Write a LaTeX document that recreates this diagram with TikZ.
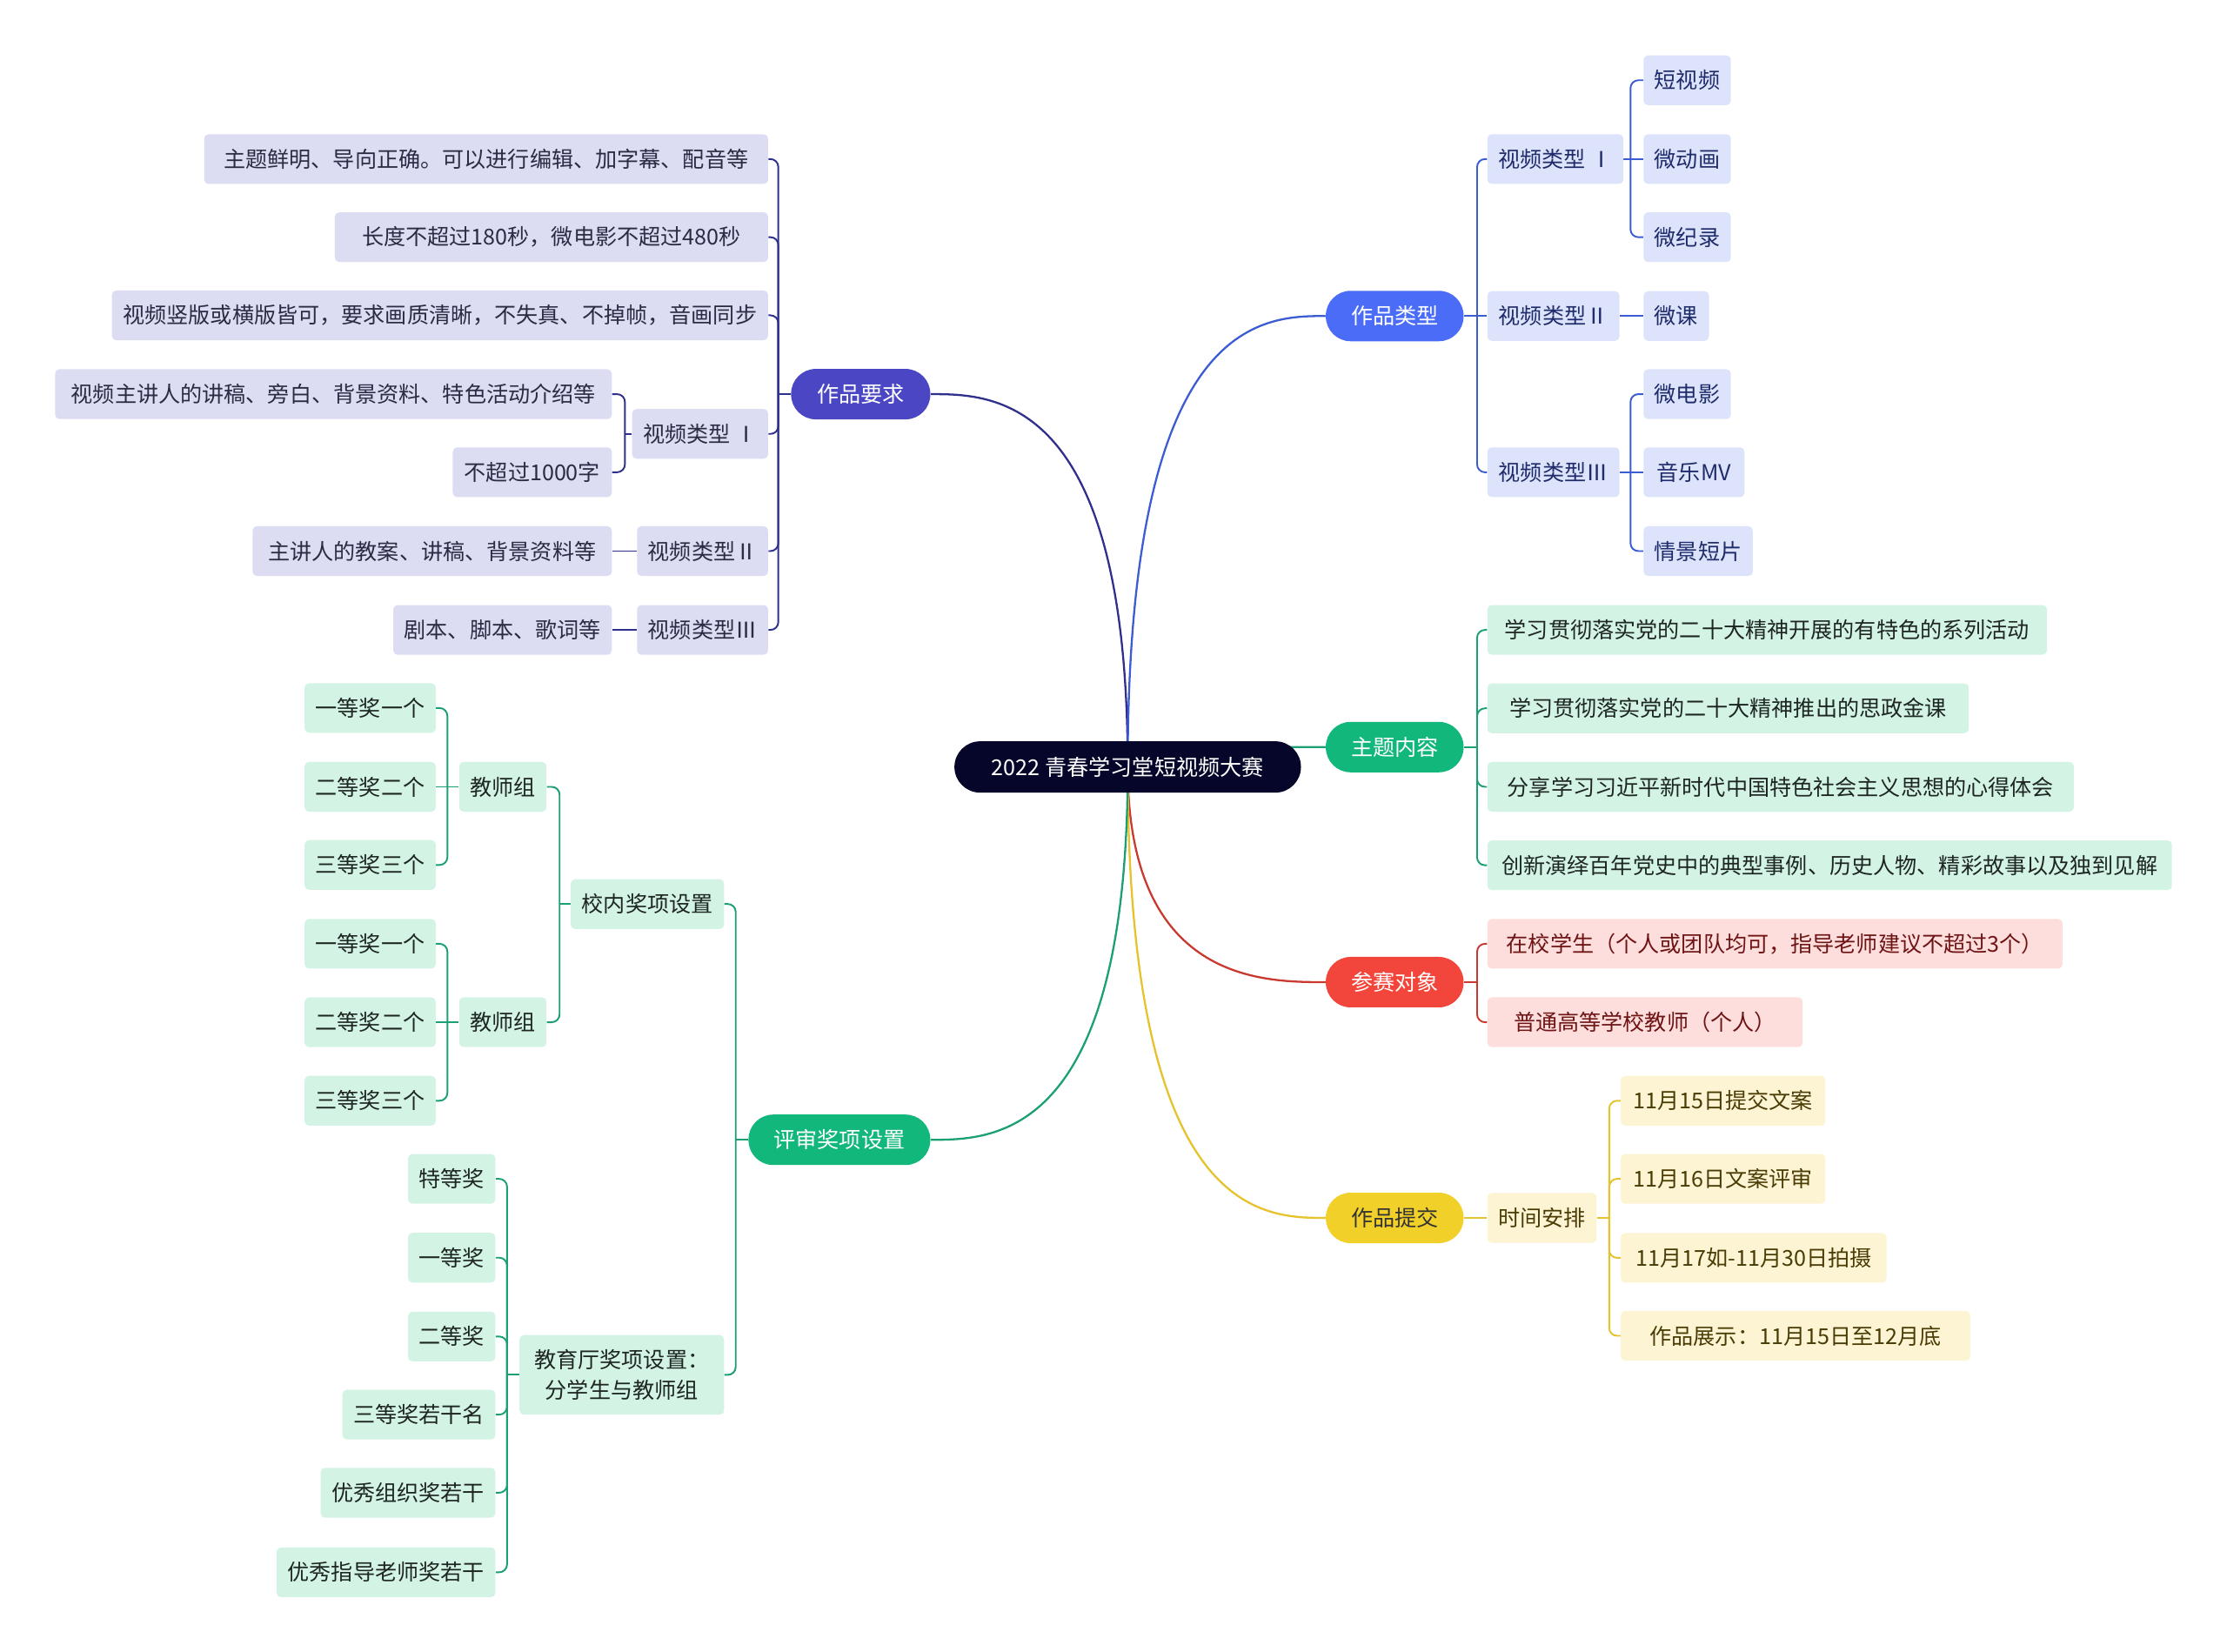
\documentclass[tikz,border=0pt]{standalone}
\usepackage{fontspec}
\setmainfont{Noto Sans CJK SC}
\usetikzlibrary{backgrounds}
\definecolor{rootc}{HTML}{06062A}
\definecolor{navyP}{HTML}{4A46C4}
\definecolor{navyL}{HTML}{2F2F8C}
\definecolor{navyF}{HTML}{DCDCF3}
\definecolor{navyT}{HTML}{2B2B45}
\definecolor{blueP}{HTML}{4A6CF6}
\definecolor{blueL}{HTML}{3C5DD2}
\definecolor{blueF}{HTML}{DDE3FB}
\definecolor{blueT}{HTML}{1F2C6B}
\definecolor{grnP}{HTML}{12B77B}
\definecolor{grnL}{HTML}{1AA074}
\definecolor{grnF}{HTML}{D3F3E5}
\definecolor{grnT}{HTML}{1E2622}
\definecolor{redP}{HTML}{F2453B}
\definecolor{redL}{HTML}{C9392F}
\definecolor{redF}{HTML}{FDDEDD}
\definecolor{redT}{HTML}{6E1414}
\definecolor{ylwP}{HTML}{F2D02A}
\definecolor{ylwL}{HTML}{E6C22C}
\definecolor{ylwF}{HTML}{FDF4D3}
\definecolor{ylwT}{HTML}{4A3C05}
\begin{document}
\begin{tikzpicture}[x=0.032654cm,y=-0.032654cm,
  base/.style={font=\fontsize{14.3pt}{17pt}\selectfont, inner ysep=0pt, inner xsep=0.25cm, minimum height=1.143cm, align=center},
  pill/.style={base, rounded corners=0.57cm, text=white, minimum height=1.16cm},
  leaf/.style={base, rounded corners=0.1cm},
  bw/.style={minimum width=#1*0.032654cm},
  lvA/.style={leaf, fill=navyF, text=navyT, anchor=east},
  lvB/.style={leaf, fill=blueF, text=blueT, anchor=west},
  lvG/.style={leaf, fill=grnF, text=grnT},
  lvR/.style={leaf, fill=redF, text=redT, anchor=west},
  lvY/.style={leaf, fill=ylwF, text=ylwT, anchor=west},
  trunk/.style={line width=1.3pt},
  twig/.style={line width=1.1pt, rounded corners=0.18cm},
]
\useasboundingbox (0,0) rectangle (1568,1163);

% root
\node[base, fill=rootc, text=white, rounded corners=0.59cm, minimum height=1.18cm, bw=244] (root) at (794,540) {2022 青春学习堂短视频大赛};

% ---------- 作品要求 ----------
\node[pill, fill=navyP, bw=98] (zq) at (606,277.5) {作品要求};
\node[lvA, bw=397] (a1) at (541,112) {主题鲜明、导向正确。可以进行编辑、加字幕、配音等};
\node[lvA, bw=305] (a2) at (541,167) {长度不超过180秒，微电影不超过480秒};
\node[lvA, bw=462] (a3) at (541,222) {视频竖版或横版皆可，要求画质清晰，不失真、不掉帧，音画同步};
\node[lvA, bw=92] (a4) at (541,305.5) {视频类型 Ⅰ};
\node[lvA, bw=92] (a5) at (541,388) {视频类型Ⅱ};
\node[lvA, bw=92] (a6) at (541,443.5) {视频类型Ⅲ};
\node[lvA, bw=392] (a41) at (431,277.5) {视频主讲人的讲稿、旁白、背景资料、特色活动介绍等};
\node[lvA, bw=112] (a42) at (431,332.5) {不超过1000字};
\node[lvA, bw=253] (a51) at (431,388) {主讲人的教案、讲稿、背景资料等};
\node[lvA, bw=153] (a61) at (431,443.5) {剧本、脚本、歌词等};

% ---------- 作品类型 ----------
\node[pill, fill=blueP, bw=97] (zl) at (982,222.5) {作品类型};
\node[lvB, bw=93] (b1) at (1047,112) {视频类型 Ⅰ};
\node[lvB, bw=93] (b2) at (1047,222.5) {视频类型Ⅱ};
\node[lvB, bw=93] (b3) at (1047,332.5) {视频类型Ⅲ};
\node[lvB, bw=61] (b11) at (1157,56.5) {短视频};
\node[lvB, bw=61] (b12) at (1157,112) {微动画};
\node[lvB, bw=61] (b13) at (1157,167) {微纪录};
\node[lvB, bw=46] (b21) at (1157,222.5) {微课};
\node[lvB, bw=61] (b31) at (1157,277.5) {微电影};
\node[lvB, bw=71] (b32) at (1157,332.5) {音乐MV};
\node[lvB, bw=76] (b33) at (1157,388) {情景短片};

% ---------- 主题内容 ----------
\node[pill, fill=grnP, bw=97] (zt) at (982,526) {主题内容};
\node[lvG, anchor=west, bw=394] (g1) at (1047,443.5) {学习贯彻落实党的二十大精神开展的有特色的系列活动};
\node[lvG, anchor=west, bw=339] (g2) at (1047,498.7) {学习贯彻落实党的二十大精神推出的思政金课};
\node[lvG, anchor=west, bw=413] (g3) at (1047,554) {分享学习习近平新时代中国特色社会主义思想的心得体会};
\node[lvG, anchor=west, bw=482] (g4) at (1047,609.2) {创新演绎百年党史中的典型事例、历史人物、精彩故事以及独到见解};

% ---------- 参赛对象 ----------
\node[pill, fill=redP, bw=97] (cs) at (982,691.5) {参赛对象};
\node[lvR, bw=405] (r1) at (1047,664.5) {在校学生（个人或团队均可，指导老师建议不超过3个）};
\node[lvR, bw=222] (r2) at (1047,719.7) {普通高等学校教师（个人）};

% ---------- 作品提交 ----------
\node[pill, fill=ylwP, text=black!80, bw=97] (tj) at (982,857.5) {作品提交};
\node[lvY, bw=77] (y0) at (1047,857.5) {时间安排};
\node[lvY, bw=144] (y1) at (1141,775) {11月15日提交文案};
\node[lvY, bw=144] (y2) at (1141,830) {11月16日文案评审};
\node[lvY, bw=187] (y3) at (1141,885.6) {11月17如-11月30日拍摄};
\node[lvY, bw=246] (y4) at (1141,940.5) {作品展示：11月15日至12月底};

% ---------- 评审奖项设置 ----------
\node[pill, fill=grnP, bw=128] (ps) at (591,802.5) {评审奖项设置};
\node[lvG, anchor=east, bw=108] (p1) at (510,636.5) {校内奖项设置};
\node[lvG, anchor=east, bw=144, minimum height=1.83cm, font=\fontsize{14.3pt}{19.4pt}\selectfont] (p2) at (510,968) {教育厅奖项设置：\\分学生与教师组};
\node[lvG, anchor=east, bw=61] (p11) at (385,554) {教师组};
\node[lvG, anchor=east, bw=61] (p12) at (385,719.7) {教师组};
\node[lvG, anchor=east, bw=92] (p111) at (307,498.5) {一等奖一个};
\node[lvG, anchor=east, bw=92] (p112) at (307,554) {二等奖二个};
\node[lvG, anchor=east, bw=92] (p113) at (307,609) {三等奖三个};
\node[lvG, anchor=east, bw=92] (p121) at (307,664.5) {一等奖一个};
\node[lvG, anchor=east, bw=92] (p122) at (307,719.7) {二等奖二个};
\node[lvG, anchor=east, bw=92] (p123) at (307,775) {三等奖三个};
\node[lvG, anchor=east, bw=61] (p21) at (349,830) {特等奖};
\node[lvG, anchor=east, bw=61] (p22) at (349,885.5) {一等奖};
\node[lvG, anchor=east, bw=61] (p23) at (349,941) {二等奖};
\node[lvG, anchor=east, bw=107] (p24) at (349,996) {三等奖若干名};
\node[lvG, anchor=east, bw=123] (p25) at (349,1051) {优秀组织奖若干};
\node[lvG, anchor=east, bw=154] (p26) at (349,1107) {优秀指导老师奖若干};

\begin{scope}[on background layer]
\fill[white] (0,0) rectangle (1568,1163);
% trunks
\draw[trunk, navyL] (root.center) .. controls (794,277.5) and (699.5,277.5) .. (zq.east);
\draw[trunk, blueL] (root.center) .. controls (794,222.5) and (889,222.5) .. (zl.west);
\draw[trunk, grnL] (root.center) .. controls (794,526) and (889,526) .. (zt.west);
\draw[trunk, redL] (root.center) .. controls (794,691.5) and (889,691.5) .. (cs.west);
\draw[trunk, ylwL] (root.center) .. controls (794,857.5) and (889,857.5) .. (tj.west);
\draw[trunk, grnL] (root.center) .. controls (794,802.5) and (699.5,802.5) .. (ps.east);

% 作品要求
\coordinate (zqb) at (548,277.5);
\draw[twig,navyL] (zq.west) -- (zqb);
\foreach \c in {a1,a2,a3,a4,a5,a6} \draw[twig,navyL] (zqb) |- (\c.east);
\coordinate (a4b) at (440,305.5);
\draw[twig,navyL] (a4.west) -- (a4b);
\foreach \c in {a41,a42} \draw[twig,navyL] (a4b) |- (\c.east);
\draw[twig,navyL] (a5.west) -- (a51.east);
\draw[twig,navyL] (a6.west) -- (a61.east);

% 作品类型
\coordinate (zlb) at (1040,222.5);
\draw[twig,blueL] (zl.east) -- (b2.west);
\foreach \c in {b1,b3} \draw[twig,blueL] (zlb) |- (\c.west);
\coordinate (b1b) at (1148,112);
\draw[twig,blueL] (b1.east) -- (b12.west);
\foreach \c in {b11,b13} \draw[twig,blueL] (b1b) |- (\c.west);
\draw[twig,blueL] (b2.east) -- (b21.west);
\coordinate (b3b) at (1148,332.5);
\draw[twig,blueL] (b3.east) -- (b32.west);
\foreach \c in {b31,b33} \draw[twig,blueL] (b3b) |- (\c.west);

% 主题内容
\coordinate (ztb) at (1040,526);
\draw[twig,grnL] (zt.east) -- (ztb);
\foreach \c in {g1,g2,g3,g4} \draw[twig,grnL] (ztb) |- (\c.west);

% 参赛对象
\coordinate (csb) at (1040,691.5);
\draw[twig,redL] (cs.east) -- (csb);
\foreach \c in {r1,r2} \draw[twig,redL] (csb) |- (\c.west);

% 作品提交
\draw[twig,ylwL] (tj.east) -- (y0.west);
\coordinate (y0b) at (1133,857.5);
\draw[twig,ylwL] (y0.east) -- (y0b);
\foreach \c in {y1,y2,y3,y4} \draw[twig,ylwL] (y0b) |- (\c.west);

% 评审奖项设置
\coordinate (psb) at (518,802.5);
\draw[twig,grnL] (ps.west) -- (psb);
\foreach \c in {p1,p2} \draw[twig,grnL] (psb) |- (\c.east);
\coordinate (p1b) at (394,636.5);
\draw[twig,grnL] (p1.west) -- (p1b);
\foreach \c in {p11,p12} \draw[twig,grnL] (p1b) |- (\c.east);
\coordinate (p11b) at (315,554);
\draw[twig,grnL] (p11.west) -- (p112.east);
\foreach \c in {p111,p113} \draw[twig,grnL] (p11b) |- (\c.east);
\coordinate (p12b) at (315,719.7);
\draw[twig,grnL] (p12.west) -- (p122.east);
\foreach \c in {p121,p123} \draw[twig,grnL] (p12b) |- (\c.east);
\coordinate (p2b) at (357,968);
\draw[twig,grnL] (p2.west) -- (p2b);
\foreach \c in {p21,p22,p23,p24,p25,p26} \draw[twig,grnL] (p2b) |- (\c.east);
\end{scope}
\end{tikzpicture}
\end{document}
